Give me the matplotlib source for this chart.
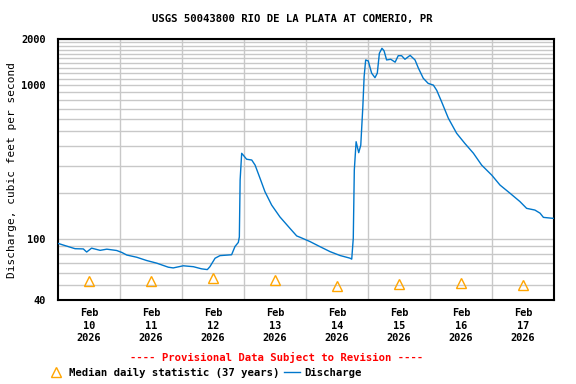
import datetime as dt
import matplotlib
matplotlib.use("Agg")
import matplotlib.pyplot as plt
import matplotlib.dates as mdates
from matplotlib.ticker import FixedLocator, FixedFormatter, NullFormatter

plt.rcParams['font.family'] = 'DejaVu Sans Mono'
plt.rcParams['font.weight'] = 'bold'
plt.rcParams['font.size'] = 7.4

# discharge, hours after Feb 10 2026 00:00 and cubic feet per second
hours = [0, 2, 6.6, 9.8, 11.1, 13.0, 16.3, 18.9, 22.7, 24.7, 26.6, 30.5, 34.3,
         38.2, 42.7, 44.6, 48.5, 52.4, 55.6, 57.8, 58.8, 60.8, 62.7, 67.2,
         68.5, 69.8, 70.2, 70.5, 71.1, 71.7, 73.0, 75.0, 76.3, 78.2, 80.1,
         82.7, 85.9, 89.8, 92.4, 93.7, 97.5, 101.4, 105.3, 109.2, 113.0,
         113.7, 114.3, 114.7, 115.4, 116.4, 117.2, 118.0, 118.5, 119.1,
         120.1, 121.4, 122.7, 123.6, 124.4, 125.4, 126.2, 127.2, 128.8,
         130.5, 131.7, 133.0, 134.3, 136.3, 138.2, 139.5, 141.4, 143.3,
         145.3, 146.6, 148.5, 151.1, 154.3, 157.5, 160.8, 164.0, 167.9,
         171.1, 175.0, 178.8, 181.4, 184.6, 186.6, 187.9, 191.7]
flow = [93.5, 91.2, 86.3, 86, 82.1, 87, 84.2, 85.7, 84, 81.6, 78.5, 75.9, 72.3,
        69.5, 65.4, 64.7, 66.8, 65.9, 63.8, 63.1, 65.9, 74.8, 77.8, 78.8,
        89.1, 94.8, 103, 241.7, 360.6, 351, 330, 326, 302, 248, 203,
        166, 139, 117, 104.5, 102.4, 96.1, 89, 82.6, 77.9, 74.9,
        73.8, 100.8, 280.6, 429, 364, 407, 724, 1138, 1461,
        1439, 1199, 1120, 1199, 1615, 1740, 1678, 1461, 1476,
        1413, 1557, 1557, 1476, 1565, 1461, 1293, 1110, 1028,
        1002, 927, 780, 610, 487, 418, 361, 302, 260,
        224, 198, 175, 158, 154, 147, 138, 136]

# median daily statistic at noon of each day
median_days = [10, 11, 12, 13, 14, 15, 16, 17]
median_vals = [53, 53, 55.5, 54, 49.3, 50.9, 51.3, 50]

start = dt.datetime(2026, 2, 10)
t = [start + dt.timedelta(hours=h) for h in hours]
t_med = [dt.datetime(2026, 2, d, 12) for d in median_days]

fig = plt.figure(figsize=(5.76, 3.84), dpi=100)
ax = fig.add_axes([58 / 576, 84 / 384, 496 / 576, 261 / 384])

ax.plot(t, flow, color='#0077CC', lw=1, label='Discharge', zorder=3)
ax.plot(t_med, median_vals, ls='none', marker='^', ms=7, mfc='none',
        mec='#FFA500', mew=1, label='Median daily statistic (37 years)', zorder=3)

ax.set_yscale('log')
ax.set_ylim(40, 2000)
ax.set_xlim(start, dt.datetime(2026, 2, 18))

ax.yaxis.set_major_locator(FixedLocator([40, 100, 1000, 2000]))
ax.yaxis.set_major_formatter(FixedFormatter(['40', '100', '1000', '2000']))
minor_y = [50, 60, 70, 80, 90] + list(range(200, 1000, 100)) + list(range(1100, 2000, 100))
ax.yaxis.set_minor_locator(FixedLocator(minor_y))
ax.yaxis.set_minor_formatter(NullFormatter())

ax.xaxis.set_major_locator(FixedLocator([mdates.date2num(d) for d in t_med]))
ax.set_xticklabels(['Feb\n%d\n2026' % d for d in median_days], linespacing=1.3)
ax.xaxis.set_minor_locator(FixedLocator(
    [mdates.date2num(dt.datetime(2026, 2, d)) for d in range(11, 18)]))

ax.tick_params(which='both', length=0, pad=9)
ax.tick_params(axis='x', pad=6)
ax.grid(True, which='minor', color='#C8C8C8', lw=1)
ax.grid(True, which='major', axis='y', color='#C8C8C8', lw=1)
for s in ax.spines.values():
    s.set_linewidth(1.5)

ax.set_ylabel('Discharge, cubic feet per second', fontsize=8, labelpad=3)
fig.text(0.507, 0.95, 'USGS 50043800 RIO DE LA PLATA AT COMERIO, PR',
         ha='center', va='center', fontsize=7.7)
fig.text(0.481, 0.068, '---- Provisional Data Subject to Revision ----',
         ha='center', va='center', color='red', fontsize=7.7)

h, l = ax.get_legend_handles_labels()
fig.legend(h[::-1], l[::-1], loc='center', bbox_to_anchor=(0.356, 0.029),
           ncol=2, frameon=False, handlelength=1.5, handletextpad=0.4,
           columnspacing=0.5, borderpad=0, fontsize=7.7)

fig.savefig('out.png', dpi=100)
